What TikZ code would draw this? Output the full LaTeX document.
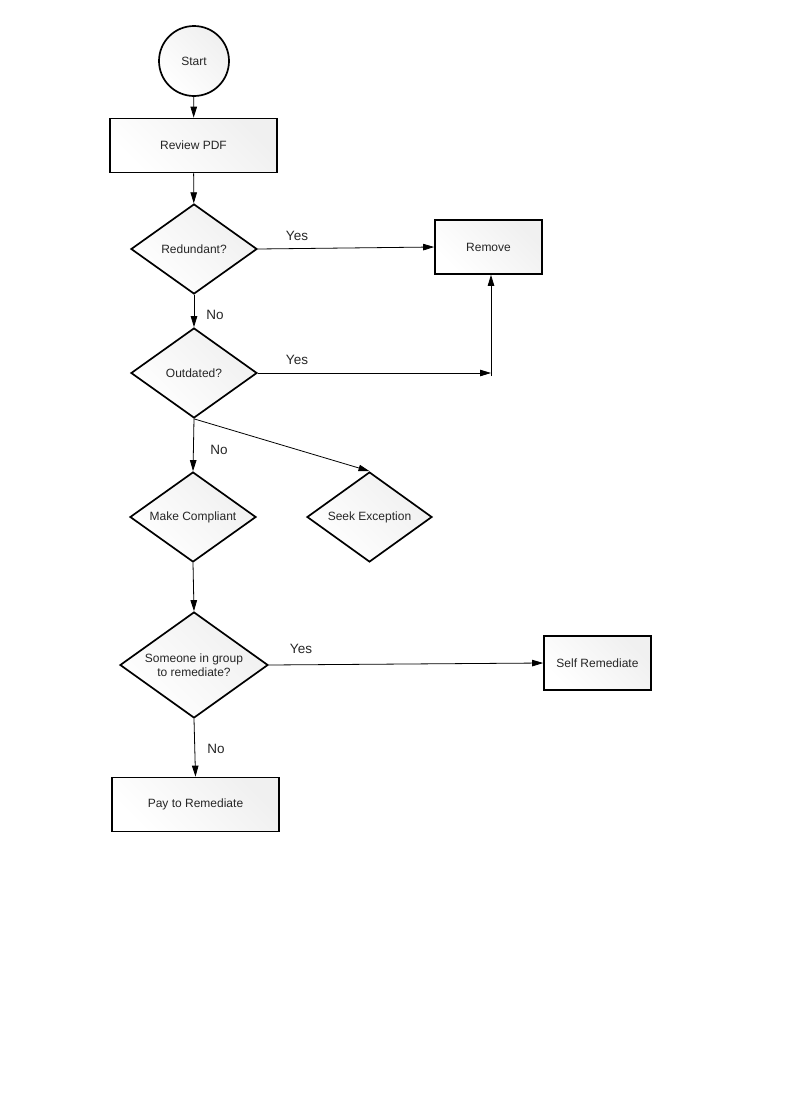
\documentclass[tikz,border=0pt]{standalone}
\usepackage{fontspec}
\setmainfont{Liberation Sans}
\usetikzlibrary{shapes.geometric,arrows.meta}
\begin{document}
\begin{tikzpicture}[x=1pt,y=-1pt,
  shadefill/.style={shading=axis,left color=white,right color=black!6,shading angle=135},
  base/.style={draw=black,line width=1.7pt,shadefill,text=black!85,font=\fontsize{12}{14}\selectfont,inner sep=0pt,align=center},
  procbox/.style={base,rectangle,minimum width=#1,minimum height=54pt},
  decision/.style={base,diamond,aspect=1.4},
  startcirc/.style={base,circle,minimum size=70pt},
  conn/.style={line width=0.8pt,-{Triangle[length=11pt,width=6.5pt]}},
  lbl/.style={font=\fontsize{13.5}{15}\selectfont,text=black!85,inner sep=0pt}
]
\useasboundingbox[fill=white] (0,0) rectangle (800,1100);

\node[startcirc] (start) at (194,61) {Start};
\node[procbox=167pt] (review) at (193.5,145.5) {Review PDF};
\node[decision,minimum width=126pt,minimum height=90pt] (red) at (194,249) {Redundant?};
\node[procbox=107pt] (remove) at (488.5,247) {Remove};
\node[decision,minimum width=126pt,minimum height=90pt] (out) at (194,373) {Outdated?};
\node[decision,minimum width=126pt,minimum height=90pt] (mc) at (193,517) {Make Compliant};
\node[decision,minimum width=125pt,minimum height=90pt] (seek) at (369.5,517) {Seek Exception};
\node[decision,minimum width=148pt,minimum height=106pt] (some) at (194,665) {Someone in group\\to remediate?};
\node[procbox=107pt] (self) at (597.5,663) {Self Remediate};
\node[procbox=167pt] (pay) at (195.5,804.5) {Pay to Remediate};

\coordinate (j) at (491,373);

\draw[conn] (start) -- (review);
\draw[conn] (review) -- (red);
\draw[conn] (red.east) -- (remove.west);
\draw[conn] (red.south) -- (out.north);
\draw[conn] (out.east) -- (j);
\draw[conn] (491,376) -- (remove.south -| j);
\draw[conn] (out.south) -- (mc.north);
\draw[conn] (out.south) -- (seek.north);
\draw[conn] (mc.south) -- (some.north);
\draw[conn] (some.east) -- (self.west);
\draw[conn] (some.south) -- (pay.north);

\node[lbl] (y1) at (297,236) {Yes};
\node[lbl] (n1) at (215,315) {No};
\node[lbl] (y2) at (297,360) {Yes};
\node[lbl] (n2) at (219,450) {No};
\node[lbl] (y3) at (301,649) {Yes};
\node[lbl] (n3) at (216,749) {No};
\end{tikzpicture}
\end{document}
